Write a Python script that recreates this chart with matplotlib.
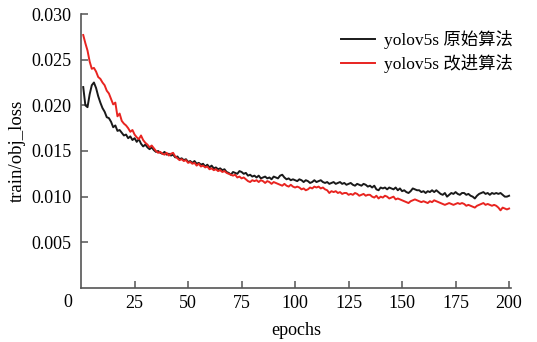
import numpy as np
from matplotlib import pyplot as plt

plt.rcParams["font.family"] = ["Liberation Serif", "Noto Sans CJK SC"]

EPOCHS = list(range(1, 201))

# yolov5s original
BASELINE = [
    0.0220, 0.0200, 0.0198, 0.0212, 0.0222, 0.0225, 0.0219, 0.0210, 0.0203, 0.0197,
    0.0193, 0.0187, 0.0186, 0.0182, 0.0176, 0.0178, 0.0172, 0.0173, 0.0170, 0.0167,
    0.0168, 0.0164, 0.0166, 0.0162, 0.0164, 0.0160, 0.0163, 0.0158, 0.0155, 0.0157,
    0.0154, 0.0152, 0.0154, 0.0151, 0.0149, 0.0150, 0.0148, 0.0147, 0.0149, 0.0146,
    0.0147, 0.0145, 0.0146, 0.0143, 0.0144, 0.0141, 0.0142, 0.0140, 0.0141, 0.0138,
    0.0139, 0.0137, 0.0139, 0.0136, 0.0137, 0.0135, 0.0136, 0.0133, 0.0135, 0.0132,
    0.0134, 0.0131, 0.0132, 0.0130, 0.0131, 0.0129, 0.0130, 0.0127, 0.0126, 0.0124,
    0.0127, 0.0126, 0.0125, 0.0128, 0.0127, 0.0125, 0.0126, 0.0123, 0.0124, 0.0122,
    0.0123, 0.0121, 0.0123, 0.0120, 0.0121, 0.0122, 0.0120, 0.0121, 0.0119, 0.0122,
    0.0121, 0.0120, 0.0123, 0.0124, 0.0121, 0.0119, 0.0120, 0.0118, 0.0119, 0.0118,
    0.0117, 0.0119, 0.0118, 0.0116, 0.0118, 0.0117, 0.0115, 0.0116, 0.0118, 0.0116,
    0.0117, 0.0118, 0.0116, 0.0115, 0.0116, 0.0114, 0.0115, 0.0116, 0.0114, 0.0115,
    0.0116, 0.0114, 0.0115, 0.0113, 0.0114, 0.0115, 0.0113, 0.0112, 0.0114, 0.0113,
    0.0112, 0.0114, 0.0113, 0.0111, 0.0112, 0.0110, 0.0112, 0.0108, 0.0107, 0.0110,
    0.0109, 0.0110, 0.0108, 0.0110, 0.0109, 0.0108, 0.0110, 0.0107, 0.0109, 0.0106,
    0.0107, 0.0105, 0.0104, 0.0106, 0.0109, 0.0108, 0.0107, 0.0107, 0.0105, 0.0106,
    0.0104, 0.0106, 0.0105, 0.0107, 0.0105, 0.0107, 0.0105, 0.0103, 0.0102, 0.0104,
    0.0100, 0.0102, 0.0104, 0.0103, 0.0105, 0.0103, 0.0102, 0.0104, 0.0104, 0.0102,
    0.0103, 0.0101, 0.0100, 0.0098, 0.0101, 0.0103, 0.0104, 0.0105, 0.0103, 0.0104,
    0.0102, 0.0104, 0.0103, 0.0104, 0.0103, 0.0104, 0.0102, 0.0100, 0.0100, 0.0101,
]

# yolov5s improved
IMPROVED = [
    0.0277, 0.0268, 0.0260, 0.0248, 0.0240, 0.0241, 0.0237, 0.0231, 0.0229, 0.0225,
    0.0222, 0.0216, 0.0213, 0.0207, 0.0201, 0.0203, 0.0188, 0.0191, 0.0183, 0.0180,
    0.0178, 0.0175, 0.0171, 0.0173, 0.0168, 0.0165, 0.0163, 0.0167, 0.0162, 0.0159,
    0.0157, 0.0154, 0.0156, 0.0153, 0.0150, 0.0148, 0.0149, 0.0147, 0.0146, 0.0148,
    0.0145, 0.0147, 0.0148, 0.0144, 0.0142, 0.0140, 0.0141, 0.0139, 0.0140, 0.0137,
    0.0138, 0.0136, 0.0137, 0.0134, 0.0136, 0.0133, 0.0134, 0.0132, 0.0133, 0.0130,
    0.0131, 0.0129, 0.0130, 0.0128, 0.0129, 0.0127, 0.0128, 0.0126, 0.0125, 0.0124,
    0.0123, 0.0124, 0.0121, 0.0122, 0.0120, 0.0121, 0.0119, 0.0117, 0.0116, 0.0118,
    0.0117, 0.0118, 0.0116, 0.0118, 0.0117, 0.0115, 0.0117, 0.0116, 0.0114, 0.0116,
    0.0115, 0.0114, 0.0113, 0.0112, 0.0114, 0.0112, 0.0111, 0.0113, 0.0111, 0.0110,
    0.0111, 0.0110, 0.0108, 0.0109, 0.0107, 0.0108, 0.0110, 0.0109, 0.0111, 0.0110,
    0.0111, 0.0109, 0.0110, 0.0108, 0.0107, 0.0104, 0.0106, 0.0105, 0.0106, 0.0104,
    0.0105, 0.0103, 0.0104, 0.0104, 0.0102, 0.0103, 0.0102, 0.0104, 0.0103, 0.0101,
    0.0102, 0.0103, 0.0101, 0.0102, 0.0102, 0.0100, 0.0099, 0.0101, 0.0098, 0.0100,
    0.0099, 0.0101, 0.0100, 0.0098, 0.0099, 0.0100, 0.0097, 0.0098, 0.0097, 0.0096,
    0.0095, 0.0094, 0.0093, 0.0095, 0.0096, 0.0097, 0.0096, 0.0095, 0.0094, 0.0095,
    0.0094, 0.0093, 0.0095, 0.0094, 0.0096, 0.0095, 0.0094, 0.0093, 0.0092, 0.0091,
    0.0092, 0.0093, 0.0092, 0.0091, 0.0092, 0.0093, 0.0092, 0.0093, 0.0092, 0.0090,
    0.0091, 0.0090, 0.0089, 0.0088, 0.0090, 0.0091, 0.0092, 0.0093, 0.0091, 0.0092,
    0.0091, 0.0090, 0.0091, 0.0090, 0.0088, 0.0085, 0.0088, 0.0087, 0.0086, 0.0087,
]

LABELS = ["yolov5s 原始算法", "yolov5s 改进算法"]
COLORS = ["#1a1a1a", "#e82420"]
X_TICKS = [25, 50, 75, 100, 125, 150, 175, 200]
Y_TICKS = [0.005, 0.010, 0.015, 0.020, 0.025, 0.030]

fig = plt.figure(figsize=(5.37, 3.42), dpi=100)
ax = fig.add_axes([0.151, 0.158, 0.801, 0.801])

for series, label, color in zip([BASELINE, IMPROVED], LABELS, COLORS):
    ax.plot(EPOCHS, series, color=color, lw=1.4, label=label)

ax.set_xlim(0, 201)
ax.set_ylim(0, 0.030)
ax.set_xticks(X_TICKS)
ax.set_yticks(Y_TICKS)
ax.set_yticklabels([f"{v:.3f}" for v in Y_TICKS])

for side in ["top", "right"]:
    ax.spines[side].set_visible(False)
for side in ["left", "bottom"]:
    ax.spines[side].set_color("#555555")
    ax.spines[side].set_linewidth(1.2)

ax.tick_params(direction="in", length=5, width=1.1, color="#555555", labelsize=13, pad=5)
ax.tick_params(axis="y", pad=7)

# the shared origin label sits below-left of the corner
ax.text(-6, -0.0007, "0", fontsize=13, ha="center", va="top")

ax.set_xlabel("epochs", fontsize=13, labelpad=7)
ax.set_ylabel("train/obj_loss", fontsize=13.5, labelpad=4)

ax.legend(loc="upper right", frameon=False, fontsize=12.5, handlelength=2.0,
          handletextpad=0.5, bbox_to_anchor=(1.04, 1.0), labelspacing=0.3)

fig.savefig("out.png", dpi=100)
